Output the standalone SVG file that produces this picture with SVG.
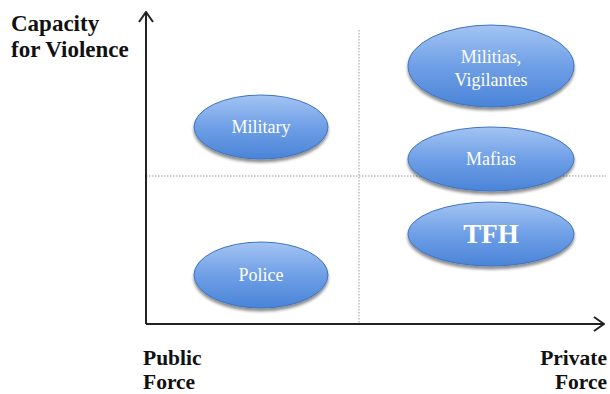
<svg xmlns="http://www.w3.org/2000/svg" width="610" height="394" viewBox="0 0 610 394">
  <defs>
    <linearGradient id="blueFill" x1="0" y1="0" x2="0" y2="1">
      <stop offset="0" stop-color="#a3c4f3"/>
      <stop offset="0.5" stop-color="#6f9fe6"/>
      <stop offset="1" stop-color="#4a84d8"/>
    </linearGradient>
    <filter id="shadow" x="-20%" y="-20%" width="140%" height="150%">
      <feGaussianBlur in="SourceAlpha" stdDeviation="1.5"/>
      <feOffset dx="0" dy="2.5" result="b"/>
      <feComponentTransfer><feFuncA type="linear" slope="0.45"/></feComponentTransfer>
      <feMerge><feMergeNode/><feMergeNode in="SourceGraphic"/></feMerge>
    </filter>
    <marker id="chev" viewBox="0 0 12 16" refX="11" refY="8" markerWidth="12" markerHeight="16" markerUnits="userSpaceOnUse" orient="auto">
      <path d="M1,1 L11,8 L1,15" fill="none" stroke="#222" stroke-width="2"/>
    </marker>
  </defs>
  <style>
    .axis { stroke: #222; stroke-width: 2; fill: none; }
    .grid { stroke: #999; stroke-width: 1; stroke-dasharray: 1.5 1.5; fill: none; }
    .bubble { fill: url(#blueFill); stroke: #3f74c0; stroke-width: 1; filter: url(#shadow); }
    .blabel { font-family: "Liberation Serif", "DejaVu Serif", serif; font-size: 18px; fill: #fff; text-anchor: middle; }
    .axlabel { font-family: "Liberation Serif", "DejaVu Serif", serif; font-size: 23px; font-weight: bold; fill: #111; }
    .xlabel { font-size: 21.5px; }
  </style>
  <rect width="610" height="394" fill="#fff"/>

  <g id="connectors">
    <line class="grid" x1="359" y1="30" x2="359" y2="324"/>
    <line class="grid" x1="146" y1="176" x2="606" y2="176"/>
    <line class="axis" x1="146" y1="324" x2="146" y2="12" marker-end="url(#chev)"/>
    <line class="axis" x1="146" y1="324" x2="604" y2="324" marker-end="url(#chev)"/>
  </g>

  <g id="axis-y-label">
    <text class="axlabel" x="11" y="31">Capacity</text>
    <text class="axlabel" x="11" y="57">for Violence</text>
  </g>
  <g id="axis-x-public">
    <text class="axlabel xlabel" x="143" y="365">Public</text>
    <text class="axlabel xlabel" x="143" y="389">Force</text>
  </g>
  <g id="axis-x-private">
    <text class="axlabel xlabel" x="607" y="365" text-anchor="end">Private</text>
    <text class="axlabel xlabel" x="607" y="389" text-anchor="end">Force</text>
  </g>

  <g id="military">
    <ellipse class="bubble" cx="261" cy="127" rx="67" ry="32"/>
    <text class="blabel" x="261" y="133">Military</text>
  </g>
  <g id="police">
    <ellipse class="bubble" cx="261" cy="275" rx="67" ry="33"/>
    <text class="blabel" x="261" y="281">Police</text>
  </g>
  <g id="militias">
    <ellipse class="bubble" cx="491" cy="66" rx="83" ry="41"/>
    <text class="blabel" x="491" y="63">Militias,</text>
    <text class="blabel" x="491" y="86">Vigilantes</text>
  </g>
  <g id="mafias">
    <ellipse class="bubble" cx="491" cy="159" rx="83" ry="32"/>
    <text class="blabel" x="491" y="165">Mafias</text>
  </g>
  <g id="tfh">
    <ellipse class="bubble" cx="491" cy="234" rx="83" ry="32"/>
    <text class="blabel" x="491" y="243" style="font-size:27px;font-weight:bold">TFH</text>
  </g>
</svg>
